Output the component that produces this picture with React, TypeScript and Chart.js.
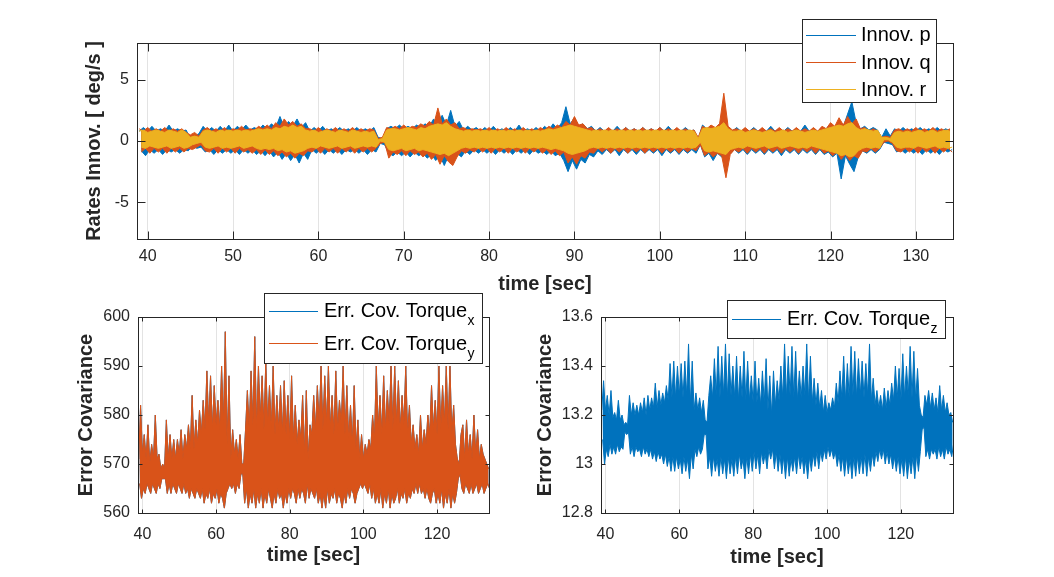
import React, { useEffect, useRef } from "react";
import { Chart, registerables } from "chart.js";
Chart.register(...registerables);

// ---------- sampling grid (0.5 s bins; each bin holds the envelope high and low)
const T0 = 39;
const DT = 0.5;

// ---------- top plot: rates innovation [deg/s]
const innovPHi = [
  0.8, 1.1, 0.8, 1.2, 0.8, 1.0, 0.8, 1.3, 0.8, 1.0, 0.8, 0.9, 0.2, 0.4, 0.6, 1.2, 0.8, 1.1, 0.8, 1.2,
  0.8, 1.3, 0.8, 1.2, 0.9, 1.3, 0.9, 1.1, 0.9, 1.3, 1.0, 1.4, 1.1, 2.0, 1.1, 1.6, 1.2, 1.8, 1.1, 1.5,
  0.8, 1.1, 0.8, 1.2, 0.8, 1.0, 0.8, 1.1, 0.8, 1.0, 0.8, 1.1, 0.8, 1.0, 0.8, 1.1, 0.3, 0.2, 1.0, 1.2,
  1.0, 1.3, 1.0, 1.2, 1.0, 1.3, 1.1, 1.4, 1.2, 1.8, 1.3, 2.1, 1.3, 2.5, 1.2, 1.6, 0.9, 1.2, 0.9, 1.1,
  0.8, 1.1, 0.8, 1.2, 0.8, 1.0, 0.8, 1.1, 0.8, 1.3, 0.8, 1.0, 0.8, 1.1, 0.8, 1.2, 0.9, 1.4, 1.0, 1.5,
  2.8, 1.4, 1.9, 1.2, 1.4, 1.0, 1.2, 0.8, 1.1, 0.8, 1.0, 0.8, 1.2, 0.8, 1.1, 0.8, 1.0, 0.8, 1.1, 0.8,
  1.0, 0.8, 1.1, 0.8, 1.2, 0.8, 1.0, 0.8, 1.1, 0.8, 0.9, 0.2, 1.3, 1.0, 1.2, 1.0, 1.4, 1.5, 1.0, 0.8,
  1.1, 0.8, 1.0, 0.8, 1.1, 0.8, 1.0, 0.8, 1.2, 0.8, 1.0, 0.8, 1.1, 0.8, 1.0, 0.8, 1.3, 0.8, 1.0, 0.8,
  1.1, 1.0, 1.4, 1.1, 1.6, 1.2, 2.2, 3.2, 1.5, 1.0, 1.2, 0.9, 1.1, 0.9, 0.3, 1.0, 0.4, 1.0, 0.8, 1.1,
  0.8, 1.0, 0.8, 1.1, 0.8, 1.0, 0.8, 1.1, 0.8, 1.0, 0.8,
];
const innovPLo = [
  -0.8, -1.2, -0.7, -1.0, -0.7, -1.1, -0.7, -0.9, -0.7, -1.0, -0.7, -0.8, -0.4, -0.6, -0.5, -0.9, -0.7, -1.1, -0.7, -1.0,
  -0.7, -1.0, -0.7, -1.1, -0.7, -1.0, -0.7, -1.1, -0.8, -1.2, -0.8, -1.3, -0.9, -1.5, -1.0, -1.6, -1.1, -1.8, -1.0, -1.5,
  -0.7, -1.0, -0.7, -1.1, -0.7, -1.0, -0.7, -1.1, -0.7, -0.9, -0.7, -1.0, -0.7, -1.1, -0.7, -0.9, -0.2, -0.3, -1.0, -1.2,
  -0.9, -1.2, -0.9, -1.3, -0.9, -1.2, -1.0, -1.4, -1.1, -1.6, -1.2, -2.0, -1.2, -1.9, -1.0, -1.3, -0.8, -1.1, -0.7, -1.0,
  -0.7, -1.0, -0.7, -1.1, -0.7, -1.0, -0.7, -1.1, -0.7, -1.0, -0.7, -1.1, -0.7, -1.0, -0.8, -1.1, -0.8, -1.2, -1.0, -1.6,
  -2.5, -1.6, -2.3, -1.5, -1.8, -1.1, -1.3, -0.8, -1.1, -0.7, -1.0, -0.7, -1.2, -0.7, -1.0, -0.7, -1.1, -0.7, -1.0, -0.7,
  -1.0, -0.7, -1.2, -0.7, -1.0, -0.7, -1.1, -0.7, -1.0, -0.7, -1.0, -0.3, -1.3, -1.0, -1.6, -1.0, -1.3, -1.2, -1.0, -0.7,
  -1.0, -0.7, -1.1, -0.7, -1.0, -0.7, -1.1, -0.7, -1.0, -0.7, -1.2, -0.7, -1.0, -0.7, -1.1, -0.7, -1.0, -0.7, -1.1, -0.7,
  -1.1, -0.9, -1.3, -1.0, -3.1, -1.2, -1.9, -2.5, -1.3, -0.8, -1.0, -0.7, -1.0, -0.7, -0.1, -0.2, -0.3, -0.9, -0.7, -1.0,
  -0.7, -1.0, -0.7, -1.1, -0.7, -1.0, -0.7, -1.1, -0.7, -0.9, -0.7,
];
const innovQHi = [
  1.0, 0.8, 1.1, 0.8, 1.0, 0.8, 1.1, 0.8, 1.0, 0.8, 1.0, 0.7, 0.5, 0.7, 0.4, 0.9, 1.1, 0.8, 1.0, 0.8,
  1.1, 0.8, 1.0, 0.9, 1.2, 0.9, 1.0, 0.9, 1.2, 1.0, 1.3, 1.0, 1.5, 1.2, 1.8, 1.3, 1.6, 1.2, 1.4, 1.0,
  1.0, 0.8, 1.1, 0.8, 1.0, 0.8, 1.1, 0.8, 1.0, 0.8, 1.1, 0.8, 1.0, 0.8, 1.0, 0.9, 0.2, 0.3, 1.1, 1.0,
  1.2, 1.0, 1.3, 1.0, 1.2, 1.1, 1.4, 1.2, 1.6, 1.3, 2.7, 1.4, 1.8, 1.3, 1.5, 1.0, 1.1, 0.9, 1.0, 0.9,
  1.0, 0.8, 1.1, 0.8, 1.0, 0.8, 1.1, 0.8, 1.0, 0.8, 1.1, 0.8, 1.0, 0.8, 1.1, 0.9, 1.2, 1.0, 1.3, 1.1,
  1.6, 1.3, 2.0, 1.3, 1.4, 1.0, 1.1, 0.8, 1.0, 0.8, 1.1, 0.8, 1.0, 0.8, 1.1, 0.8, 1.0, 0.8, 1.1, 0.8,
  1.0, 0.8, 1.1, 0.8, 1.0, 0.8, 1.1, 0.8, 1.0, 0.8, 0.9, 0.3, 1.2, 1.0, 1.3, 1.1, 1.4, 3.9, 1.2, 0.9,
  1.0, 0.8, 1.1, 0.8, 1.0, 0.8, 1.1, 0.8, 1.0, 0.8, 1.1, 0.8, 1.0, 0.8, 1.1, 0.8, 1.0, 0.8, 1.1, 0.8,
  1.2, 1.0, 1.5, 1.2, 1.9, 1.3, 2.0, 1.4, 1.8, 1.0, 1.1, 0.8, 1.0, 0.8, 0.3, 0.4, 0.3, 0.9, 1.0, 0.8,
  1.0, 0.8, 1.1, 0.8, 1.0, 0.8, 1.1, 0.8, 1.0, 0.8, 1.0,
];
const innovQLo = [
  -0.9, -0.6, -1.0, -0.6, -0.9, -0.6, -1.0, -0.6, -0.9, -0.6, -0.9, -0.6, -0.7, -0.5, -0.3, -0.8, -0.9, -0.6, -1.0, -0.6,
  -0.9, -0.6, -1.0, -0.6, -0.9, -0.7, -1.0, -0.7, -1.1, -0.7, -1.1, -0.8, -1.2, -0.9, -1.3, -1.0, -1.4, -1.0, -1.2, -0.8,
  -0.9, -0.6, -1.0, -0.6, -0.9, -0.6, -1.0, -0.6, -0.9, -0.6, -1.0, -0.6, -0.9, -0.6, -0.9, -0.6, -0.2, -0.1, -1.4, -0.9,
  -1.1, -0.8, -1.2, -0.8, -1.1, -0.9, -1.3, -1.0, -1.5, -1.1, -1.9, -1.2, -1.7, -2.0, -1.3, -0.8, -1.0, -0.7, -0.9, -0.6,
  -0.9, -0.6, -1.0, -0.6, -0.9, -0.6, -1.0, -0.6, -0.9, -0.6, -1.0, -0.6, -0.9, -0.6, -1.0, -0.7, -1.1, -0.8, -1.2, -0.9,
  -1.8, -1.3, -1.9, -1.2, -1.4, -0.9, -1.0, -0.6, -0.9, -0.6, -1.0, -0.6, -0.9, -0.6, -1.0, -0.6, -0.9, -0.6, -1.0, -0.6,
  -0.9, -0.6, -1.0, -0.6, -0.9, -0.6, -1.0, -0.6, -0.9, -0.6, -0.8, -0.3, -1.2, -0.9, -1.3, -1.0, -1.2, -3.0, -1.1, -0.7,
  -0.9, -0.6, -1.0, -0.6, -0.9, -0.6, -1.0, -0.6, -0.9, -0.6, -1.0, -0.6, -0.9, -0.6, -1.0, -0.6, -0.9, -0.6, -1.0, -0.6,
  -1.0, -0.8, -1.2, -0.9, -1.5, -1.1, -1.6, -1.2, -1.4, -0.8, -0.9, -0.6, -0.9, -0.6, -0.1, 0.0, -0.2, -0.8, -0.9, -0.6,
  -0.9, -0.6, -1.0, -0.6, -0.9, -0.6, -1.0, -0.6, -0.9, -0.6, -0.9,
];
const innovRHi = [
  0.8, 0.9, 0.7, 0.8, 0.9, 0.8, 0.7, 0.9, 0.8, 0.7, 0.9, 0.7, 0.3, 0.4, 0.3, 0.8, 0.9, 0.8, 0.7, 0.9,
  0.8, 0.9, 0.8, 0.9, 0.8, 0.9, 0.8, 0.9, 1.0, 0.9, 1.0, 0.9, 1.1, 1.0, 1.2, 1.1, 1.3, 1.1, 1.2, 0.9,
  0.8, 0.9, 0.7, 0.8, 0.9, 0.8, 0.7, 0.9, 0.8, 0.7, 0.9, 0.8, 0.7, 0.8, 0.7, 0.8, 0.1, 0.2, 0.9, 1.0,
  1.0, 0.9, 1.0, 1.1, 1.0, 0.9, 1.1, 1.0, 1.2, 1.3, 1.4, 1.3, 1.5, 1.2, 1.0, 0.9, 0.8, 0.9, 0.8, 0.9,
  0.8, 0.9, 0.8, 0.9, 0.8, 0.9, 0.8, 0.9, 0.8, 0.9, 0.8, 0.9, 0.8, 0.9, 0.8, 0.9, 1.0, 0.9, 1.0, 1.1,
  1.2, 1.3, 1.2, 1.1, 1.0, 0.9, 0.8, 0.9, 0.8, 0.9, 0.8, 0.9, 0.8, 0.9, 0.8, 0.9, 0.8, 0.9, 0.8, 0.9,
  0.8, 0.9, 0.8, 0.9, 0.8, 0.9, 0.8, 0.9, 0.8, 0.9, 0.8, 0.2, 1.0, 1.1, 1.0, 1.1, 1.2, 1.5, 1.0, 0.8,
  0.8, 0.9, 0.7, 0.8, 0.9, 0.8, 0.7, 0.8, 0.9, 0.7, 0.8, 0.9, 0.7, 0.8, 0.9, 0.8, 0.7, 0.8, 0.9, 0.8,
  0.9, 1.0, 1.1, 1.2, 1.3, 1.2, 1.4, 1.5, 1.1, 0.9, 1.0, 0.9, 0.8, 0.9, 0.3, 0.3, 0.2, 0.7, 0.8, 0.7,
  0.8, 0.7, 0.8, 0.9, 0.7, 0.8, 0.9, 0.7, 0.8, 0.9, 0.8,
];
const innovRLo = [
  -0.5, -0.6, -0.4, -0.5, -0.6, -0.5, -0.4, -0.6, -0.5, -0.4, -0.6, -0.5, -0.3, -0.2, -0.1, -0.5, -0.6, -0.5, -0.4, -0.6,
  -0.5, -0.6, -0.5, -0.4, -0.6, -0.5, -0.4, -0.6, -0.7, -0.6, -0.7, -0.6, -0.8, -0.7, -0.9, -0.8, -1.0, -0.9, -0.8, -0.6,
  -0.5, -0.6, -0.4, -0.5, -0.6, -0.5, -0.4, -0.6, -0.5, -0.4, -0.6, -0.5, -0.4, -0.5, -0.4, -0.5, 0.0, -0.1, -0.7, -0.8,
  -0.7, -0.6, -0.8, -0.7, -0.6, -0.8, -0.7, -0.8, -0.9, -1.0, -1.1, -1.0, -1.2, -1.0, -0.8, -0.6, -0.5, -0.6, -0.5, -0.6,
  -0.5, -0.6, -0.5, -0.6, -0.5, -0.6, -0.5, -0.6, -0.5, -0.6, -0.5, -0.6, -0.5, -0.6, -0.5, -0.6, -0.7, -0.6, -0.7, -0.8,
  -1.0, -1.1, -1.0, -0.9, -0.8, -0.6, -0.5, -0.6, -0.5, -0.6, -0.5, -0.6, -0.5, -0.6, -0.5, -0.6, -0.5, -0.6, -0.5, -0.6,
  -0.5, -0.6, -0.5, -0.6, -0.5, -0.6, -0.5, -0.6, -0.5, -0.6, -0.5, -0.1, -0.8, -0.9, -0.8, -0.9, -1.0, -1.1, -0.7, -0.6,
  -0.5, -0.6, -0.4, -0.5, -0.6, -0.5, -0.4, -0.6, -0.5, -0.4, -0.6, -0.5, -0.4, -0.5, -0.6, -0.5, -0.6, -0.4, -0.5, -0.6,
  -0.7, -0.8, -0.9, -1.0, -1.2, -1.1, -1.3, -1.2, -0.8, -0.6, -0.5, -0.6, -0.5, -0.6, 0.1, 0.1, -0.1, -0.5, -0.6, -0.5,
  -0.5, -0.6, -0.4, -0.5, -0.6, -0.5, -0.4, -0.6, -0.5, -0.6, -0.5,
];

// ---------- bottom-left: error covariance torque y (torque x is identical and hidden beneath it)
const torqueYHi = [
  571, 582, 572, 576, 571, 578, 570, 574, 571, 580, 571, 572, 569, 570, 569, 579, 571, 576, 571, 575,
  571, 575, 572, 577, 571, 576, 573, 578, 573, 584, 573, 579, 574, 581, 576, 583, 577, 589, 578, 588,
  577, 586, 578, 583, 577, 590, 578, 597, 574, 588, 571, 577, 572, 575, 571, 576, 570, 570, 577, 585,
  577, 589, 578, 596, 577, 590, 579, 588, 577, 591, 578, 586, 577, 590, 576, 584, 577, 586, 576, 587,
  576, 584, 575, 588, 575, 582, 574, 579, 575, 584, 572, 585, 571, 578, 576, 584, 577, 586, 578, 590,
  577, 588, 578, 590, 577, 584, 576, 589, 577, 583, 578, 590, 576, 586, 575, 582, 574, 586, 573, 579,
  571, 576, 571, 574, 572, 575, 573, 580, 575, 590, 577, 584, 576, 588, 577, 585, 578, 590, 577, 590,
  578, 587, 577, 584, 578, 590, 576, 582, 574, 578, 573, 576, 572, 580, 573, 577, 574, 580, 576, 586,
  577, 583, 576, 590, 577, 586, 578, 590, 577, 590, 576, 582, 574, 571, 570, 576, 578, 571, 579, 572,
  576, 571, 580, 572, 577, 571, 574, 572, 571, 570, 569,
];
const torqueYLo = [
  566, 563, 565, 564, 566, 565, 564, 566, 565, 564, 566, 565, 567, 567, 567, 564, 566, 564, 566, 565,
  564, 566, 565, 564, 566, 564, 565, 563, 565, 564, 563, 565, 564, 563, 565, 562, 564, 563, 565, 562,
  564, 563, 565, 562, 564, 563, 561, 564, 565, 566, 565, 566, 564, 566, 565, 568, 568, 562, 565, 561,
  564, 562, 565, 561, 564, 562, 565, 561, 564, 562, 565, 563, 561, 564, 562, 565, 563, 564, 561, 564,
  562, 565, 563, 565, 564, 562, 565, 563, 565, 564, 562, 566, 563, 565, 564, 563, 565, 562, 564, 561,
  564, 561, 565, 562, 564, 563, 565, 562, 564, 563, 561, 564, 562, 565, 563, 565, 564, 562, 564, 565,
  566, 565, 566, 565, 564, 566, 563, 565, 562, 564, 562, 565, 561, 564, 562, 565, 561, 564, 562, 563,
  565, 562, 564, 563, 565, 562, 564, 563, 565, 564, 566, 564, 566, 564, 565, 563, 565, 563, 562, 564,
  565, 562, 564, 562, 565, 561, 564, 562, 565, 561, 564, 562, 564, 567, 568, 565, 564, 566, 565, 564,
  566, 564, 565, 566, 564, 565, 566, 564, 565, 566, 565,
];
const torqueXHi = torqueYHi;
const torqueXLo = torqueYLo;

// ---------- bottom-right: error covariance torque z
const torqueZHi = [
  13.22, 13.34, 13.22, 13.28, 13.20, 13.30, 13.19, 13.21, 13.18, 13.26, 13.18, 13.20, 13.16, 13.17, 13.16, 13.28, 13.20, 13.25, 13.20, 13.24,
  13.20, 13.25, 13.21, 13.27, 13.20, 13.28, 13.22, 13.27, 13.23, 13.33, 13.23, 13.30, 13.24, 13.29, 13.25, 13.32, 13.26, 13.41, 13.27, 13.42,
  13.27, 13.40, 13.28, 13.41, 13.27, 13.42, 13.28, 13.49, 13.25, 13.42, 13.22, 13.29, 13.22, 13.27, 13.21, 13.26, 13.18, 13.17, 13.28, 13.36,
  13.27, 13.43, 13.28, 13.48, 13.27, 13.44, 13.28, 13.49, 13.27, 13.45, 13.28, 13.40, 13.27, 13.44, 13.26, 13.40, 13.27, 13.46, 13.26, 13.42,
  13.26, 13.36, 13.25, 13.42, 13.25, 13.35, 13.24, 13.38, 13.25, 13.43, 13.22, 13.36, 13.20, 13.38, 13.24, 13.34, 13.26, 13.40, 13.27, 13.49,
  13.27, 13.44, 13.28, 13.48, 13.27, 13.46, 13.26, 13.38, 13.27, 13.40, 13.28, 13.49, 13.26, 13.44, 13.25, 13.35, 13.24, 13.33, 13.23, 13.30,
  13.21, 13.28, 13.21, 13.25, 13.22, 13.27, 13.23, 13.33, 13.25, 13.38, 13.27, 13.44, 13.26, 13.41, 13.27, 13.48, 13.28, 13.46, 13.27, 13.43,
  13.28, 13.42, 13.27, 13.41, 13.28, 13.49, 13.26, 13.35, 13.24, 13.30, 13.23, 13.28, 13.22, 13.31, 13.23, 13.30, 13.24, 13.33, 13.26, 13.40,
  13.27, 13.39, 13.26, 13.45, 13.27, 13.40, 13.28, 13.48, 13.27, 13.46, 13.26, 13.39, 13.24, 13.20, 13.19, 13.28, 13.24, 13.30, 13.23, 13.29,
  13.22, 13.27, 13.21, 13.32, 13.22, 13.28, 13.21, 13.25, 13.20, 13.21, 13.17,
];
const torqueZLo = [
  13.10, 13.00, 13.06, 13.03, 13.08, 13.04, 13.07, 13.04, 13.08, 13.05, 13.07, 13.06, 13.13, 13.12, 13.13, 13.04, 13.07, 13.03, 13.07, 13.05,
  13.06, 13.03, 13.07, 13.04, 13.06, 13.03, 13.06, 13.02, 13.05, 13.01, 13.05, 13.02, 13.04, 13.00, 13.04, 12.99, 13.03, 12.97, 13.03, 12.97,
  13.03, 12.98, 13.02, 12.96, 13.03, 12.97, 13.02, 12.94, 13.04, 12.98, 13.06, 13.03, 13.07, 13.04, 13.06, 13.12, 13.12, 12.98, 13.03, 12.95,
  13.03, 12.97, 13.02, 12.95, 13.03, 12.96, 13.02, 12.94, 13.03, 12.96, 13.02, 12.95, 13.03, 12.96, 13.04, 12.98, 13.02, 12.94, 13.03, 12.96,
  13.04, 12.97, 13.05, 12.98, 13.04, 12.96, 13.05, 13.00, 13.04, 12.98, 13.06, 13.02, 13.06, 12.98, 13.05, 12.97, 13.04, 12.96, 13.03, 12.94,
  13.03, 12.95, 13.02, 12.97, 13.03, 12.96, 13.04, 12.98, 13.03, 12.96, 13.02, 12.94, 13.03, 12.97, 13.04, 12.99, 13.05, 12.98, 13.05, 13.01,
  13.06, 13.02, 13.07, 13.03, 13.06, 13.02, 13.05, 12.99, 13.04, 12.97, 13.03, 12.95, 13.03, 12.96, 13.02, 12.94, 13.03, 12.95, 13.03, 12.96,
  13.03, 12.96, 13.04, 12.95, 13.03, 12.97, 13.04, 12.99, 13.05, 13.01, 13.06, 13.02, 13.06, 13.00, 13.05, 13.00, 13.04, 12.98, 13.03, 12.97,
  13.03, 12.96, 13.02, 12.95, 13.03, 12.94, 13.02, 12.96, 13.03, 12.94, 13.04, 12.97, 13.05, 13.14, 13.15, 13.03, 13.06, 13.02, 13.06, 13.04,
  13.06, 13.02, 13.07, 13.03, 13.06, 13.02, 13.07, 13.04, 13.06, 13.03, 13.08,
];

// ---------- ticks and labels
const topXTicks = [40, 50, 60, 70, 80, 90, 100, 110, 120, 130];
const topYTicks = [-5, 0, 5];
const bottomXTicks = [40, 60, 80, 100, 120];
const covXYTicks = [560, 570, 580, 590, 600];
const covZTicks = [12.8, 13.0, 13.2, 13.4, 13.6];

// ---------- styles
const W = 1054;
const H = 577;
const BLUE = "#0072BD";
const ORANGE = "#D95319";
const YELLOW = "#EDB120";
const AXC = "#262626";
const GRID = "#e3e3e3";
const FONT = "'Liberation Sans', Arial, Helvetica, sans-serif";

Chart.defaults.font.family = FONT;

function points(vals: number[], shift: number) {
  return vals.map((v, i) => ({ x: T0 + i * DT + shift, y: v }));
}

type Series = { label: string; hi: number[]; lo: number[]; color: string };
type LegendItem = { text: string; sub?: string; color: string; y: number };
type PanelSpec = {
  area: { l: number; t: number; r: number; b: number };
  yTitleX: number;
  xTitleY: number;
  xMin: number;
  xMax: number;
  yMin: number;
  yMax: number;
  xTicks: number[];
  yTicks: number[];
  yTitle: string;
  xTickPad: number;
  tickLen: number;
  yFmt?: (v: number) => string;
  series: Series[];
  legend: { x: number; y: number; w: number; h: number; lx0: number; lx1: number; tx: number; items: LegendItem[] };
};

const panels: PanelSpec[] = [
  {
    area: { l: 137, t: 43, r: 953, b: 239 },
    yTitleX: 94,
    xTitleY: 284,
    xMin: 38.75,
    xMax: 134.35,
    yMin: -8,
    yMax: 8,
    xTicks: topXTicks,
    yTicks: topYTicks,
    yTitle: "Rates Innov. [ deg/s ]",
    xTickPad: 8,
    tickLen: 8,
    series: [
      { label: "Innov. p", hi: innovPHi, lo: innovPLo, color: BLUE },
      { label: "Innov. q", hi: innovQHi, lo: innovQLo, color: ORANGE },
      { label: "Innov. r", hi: innovRHi, lo: innovRLo, color: YELLOW },
    ],
    legend: {
      x: 802, y: 19, w: 134, h: 83, lx0: 4, lx1: 54, tx: 59,
      items: [
        { text: "Innov. p", color: BLUE, y: 34.5 },
        { text: "Innov. q", color: ORANGE, y: 62 },
        { text: "Innov. r", color: YELLOW, y: 89 },
      ],
    },
  },
  {
    area: { l: 138, t: 317, r: 489, b: 513 },
    yTitleX: 86,
    xTitleY: 555,
    xMin: 38.8,
    xMax: 134.1,
    yMin: 560,
    yMax: 600,
    xTicks: bottomXTicks,
    yTicks: covXYTicks,
    yTitle: "Error Covariance",
    xTickPad: 12,
    tickLen: 4,
    series: [
      { label: "Err. Cov. Torque_x", hi: torqueXHi, lo: torqueXLo, color: BLUE },
      { label: "Err. Cov. Torque_y", hi: torqueYHi, lo: torqueYLo, color: ORANGE },
    ],
    legend: {
      x: 264, y: 293, w: 218, h: 70, lx0: 5, lx1: 54, tx: 60,
      items: [
        { text: "Err. Cov. Torque", sub: "x", color: BLUE, y: 310.5 },
        { text: "Err. Cov. Torque", sub: "y", color: ORANGE, y: 343 },
      ],
    },
  },
  {
    area: { l: 601, t: 317, r: 953, b: 513 },
    yTitleX: 545,
    xTitleY: 557,
    xMin: 38.8,
    xMax: 134.1,
    yMin: 12.8,
    yMax: 13.6,
    xTicks: bottomXTicks,
    yTicks: covZTicks,
    yTitle: "Error Covariance",
    xTickPad: 12,
    tickLen: 4,
    yFmt: (v: number) => String(Number(v.toFixed(1))),
    series: [{ label: "Err. Cov. Torque_z", hi: torqueZHi, lo: torqueZLo, color: BLUE }],
    legend: {
      x: 727, y: 300, w: 218, h: 38, lx0: 5, lx1: 54, tx: 60,
      items: [{ text: "Err. Cov. Torque", sub: "z", color: BLUE, y: 318.5 }],
    },
  },
];

function framePlugin(p: PanelSpec) {
  return {
    id: "matlabFrame",
    afterDatasetsDraw(chart: any) {
      const ctx = chart.ctx as CanvasRenderingContext2D;
      const a = chart.chartArea;
      const xs = chart.scales.x;
      const ys = chart.scales.y;
      ctx.save();
      ctx.strokeStyle = AXC;
      ctx.lineWidth = 1;
      const L = Math.round(a.left) + 0.5;
      const R = Math.round(a.right) + 0.5;
      const T = Math.round(a.top) + 0.5;
      const B = Math.round(a.bottom) + 0.5;
      ctx.beginPath();
      for (const v of p.xTicks) {
        const x = Math.round(xs.getPixelForValue(v)) + 0.5;
        ctx.moveTo(x, B);
        ctx.lineTo(x, B - p.tickLen);
        ctx.moveTo(x, T);
        ctx.lineTo(x, T + p.tickLen);
      }
      for (const v of p.yTicks) {
        const y = Math.round(ys.getPixelForValue(v)) + 0.5;
        ctx.moveTo(L, y);
        ctx.lineTo(L + p.tickLen, y);
        ctx.moveTo(R, y);
        ctx.lineTo(R - p.tickLen, y);
      }
      ctx.stroke();
      ctx.strokeRect(L, T, R - L, B - T);
      ctx.restore();
    },
    afterDraw(chart: any) {
      const ctx = chart.ctx as CanvasRenderingContext2D;
      const lg = p.legend;
      ctx.save();
      ctx.fillStyle = "#ffffff";
      ctx.fillRect(lg.x, lg.y, lg.w, lg.h);
      ctx.strokeStyle = AXC;
      ctx.lineWidth = 1;
      ctx.strokeRect(lg.x + 0.5, lg.y + 0.5, lg.w, lg.h);
      for (const it of lg.items) {
        ctx.strokeStyle = it.color;
        ctx.lineWidth = 1;
        ctx.beginPath();
        ctx.moveTo(lg.x + lg.lx0, Math.round(it.y) + 0.5);
        ctx.lineTo(lg.x + lg.lx1, Math.round(it.y) + 0.5);
        ctx.stroke();
        ctx.fillStyle = "#000000";
        ctx.textBaseline = "middle";
        ctx.textAlign = "left";
        ctx.font = `20px ${FONT}`;
        const tx = lg.x + lg.tx;
        ctx.fillText(it.text, tx, it.y + 1);
        if (it.sub) {
          const w = ctx.measureText(it.text).width;
          ctx.font = `14px ${FONT}`;
          ctx.fillText(it.sub, tx + w + 0.5, it.y + 11);
        }
      }
      ctx.restore();
    },
  };
}

function buildDatasets(p: PanelSpec) {
  const out: any[] = [];
  const n = p.series.length;
  p.series.forEach((s, k) => {
    // later series are drawn on top (higher order = drawn earlier)
    const base = (n - k) * 2;
    out.push({
      label: s.label,
      data: points(s.hi, 0),
      borderColor: s.color,
      backgroundColor: s.color,
      borderWidth: 1,
      pointRadius: 0,
      pointHoverRadius: 0,
      tension: 0,
      fill: "+1",
      order: base,
    });
    out.push({
      label: s.label + " (low)",
      data: points(s.lo, DT / 2),
      borderColor: s.color,
      backgroundColor: s.color,
      borderWidth: 1,
      pointRadius: 0,
      pointHoverRadius: 0,
      tension: 0,
      fill: false,
      order: base - 1,
    });
  });
  return out;
}

function buildConfig(p: PanelSpec): any {
  const padLeft = p.yTitleX - 12;
  const yWidth = p.area.l - padLeft;
  const xHeight = p.xTitleY + 12 - p.area.b;
  const tickFont = { family: FONT, size: 16 };
  const titleFont = { family: FONT, size: 20, weight: "bold" as const };
  return {
    type: "line",
    data: { datasets: buildDatasets(p) },
    options: {
      responsive: false,
      maintainAspectRatio: false,
      animation: false,
      devicePixelRatio: 1,
      events: [],
      parsing: false,
      normalized: true,
      layout: {
        padding: { left: padLeft, top: p.area.t, right: W - p.area.r, bottom: H - p.area.b - xHeight },
      },
      plugins: {
        legend: { display: false },
        tooltip: { enabled: false },
        title: { display: false },
        filler: { propagate: false },
      },
      scales: {
        x: {
          type: "linear",
          min: p.xMin,
          max: p.xMax,
          afterBuildTicks: (s: any) => {
            s.ticks = p.xTicks.map((v) => ({ value: v }));
          },
          afterFit: (s: any) => {
            s.height = xHeight;
          },
          grid: { display: true, color: GRID, lineWidth: 1, drawTicks: false },
          border: { display: false },
          ticks: { font: tickFont, color: AXC, padding: p.xTickPad, maxRotation: 0, autoSkip: false },
          title: { display: true, text: "time [sec]", font: titleFont, color: AXC, padding: 0 },
        },
        y: {
          type: "linear",
          min: p.yMin,
          max: p.yMax,
          afterBuildTicks: (s: any) => {
            s.ticks = p.yTicks.map((v) => ({ value: v }));
          },
          afterFit: (s: any) => {
            s.width = yWidth;
          },
          grid: { display: false, drawTicks: false },
          border: { display: false },
          ticks: {
            font: tickFont,
            color: AXC,
            padding: 8,
            autoSkip: false,
            callback: (v: any) => (p.yFmt ? p.yFmt(Number(v)) : String(v)),
          },
          title: { display: true, text: p.yTitle, font: titleFont, color: AXC, padding: 0 },
        },
      },
    },
    plugins: [framePlugin(p)],
  };
}

function Panel({ spec }: { spec: PanelSpec }) {
  const ref = useRef<HTMLCanvasElement>(null);
  useEffect(() => {
    if (!ref.current) return;
    const chart = new Chart(ref.current, buildConfig(spec));
    return () => chart.destroy();
  }, [spec]);
  return (
    <canvas
      ref={ref}
      width={W}
      height={H}
      style={{ position: "absolute", left: 0, top: 0, width: W, height: H }}
    />
  );
}

export default function App() {
  return (
    <div
      style={{
        position: "fixed",
        left: 0,
        top: 0,
        width: W,
        height: H,
        background: "#ffffff",
        overflow: "hidden",
      }}
    >
      {panels.map((p, i) => (
        <Panel key={i} spec={p} />
      ))}
    </div>
  );
}
